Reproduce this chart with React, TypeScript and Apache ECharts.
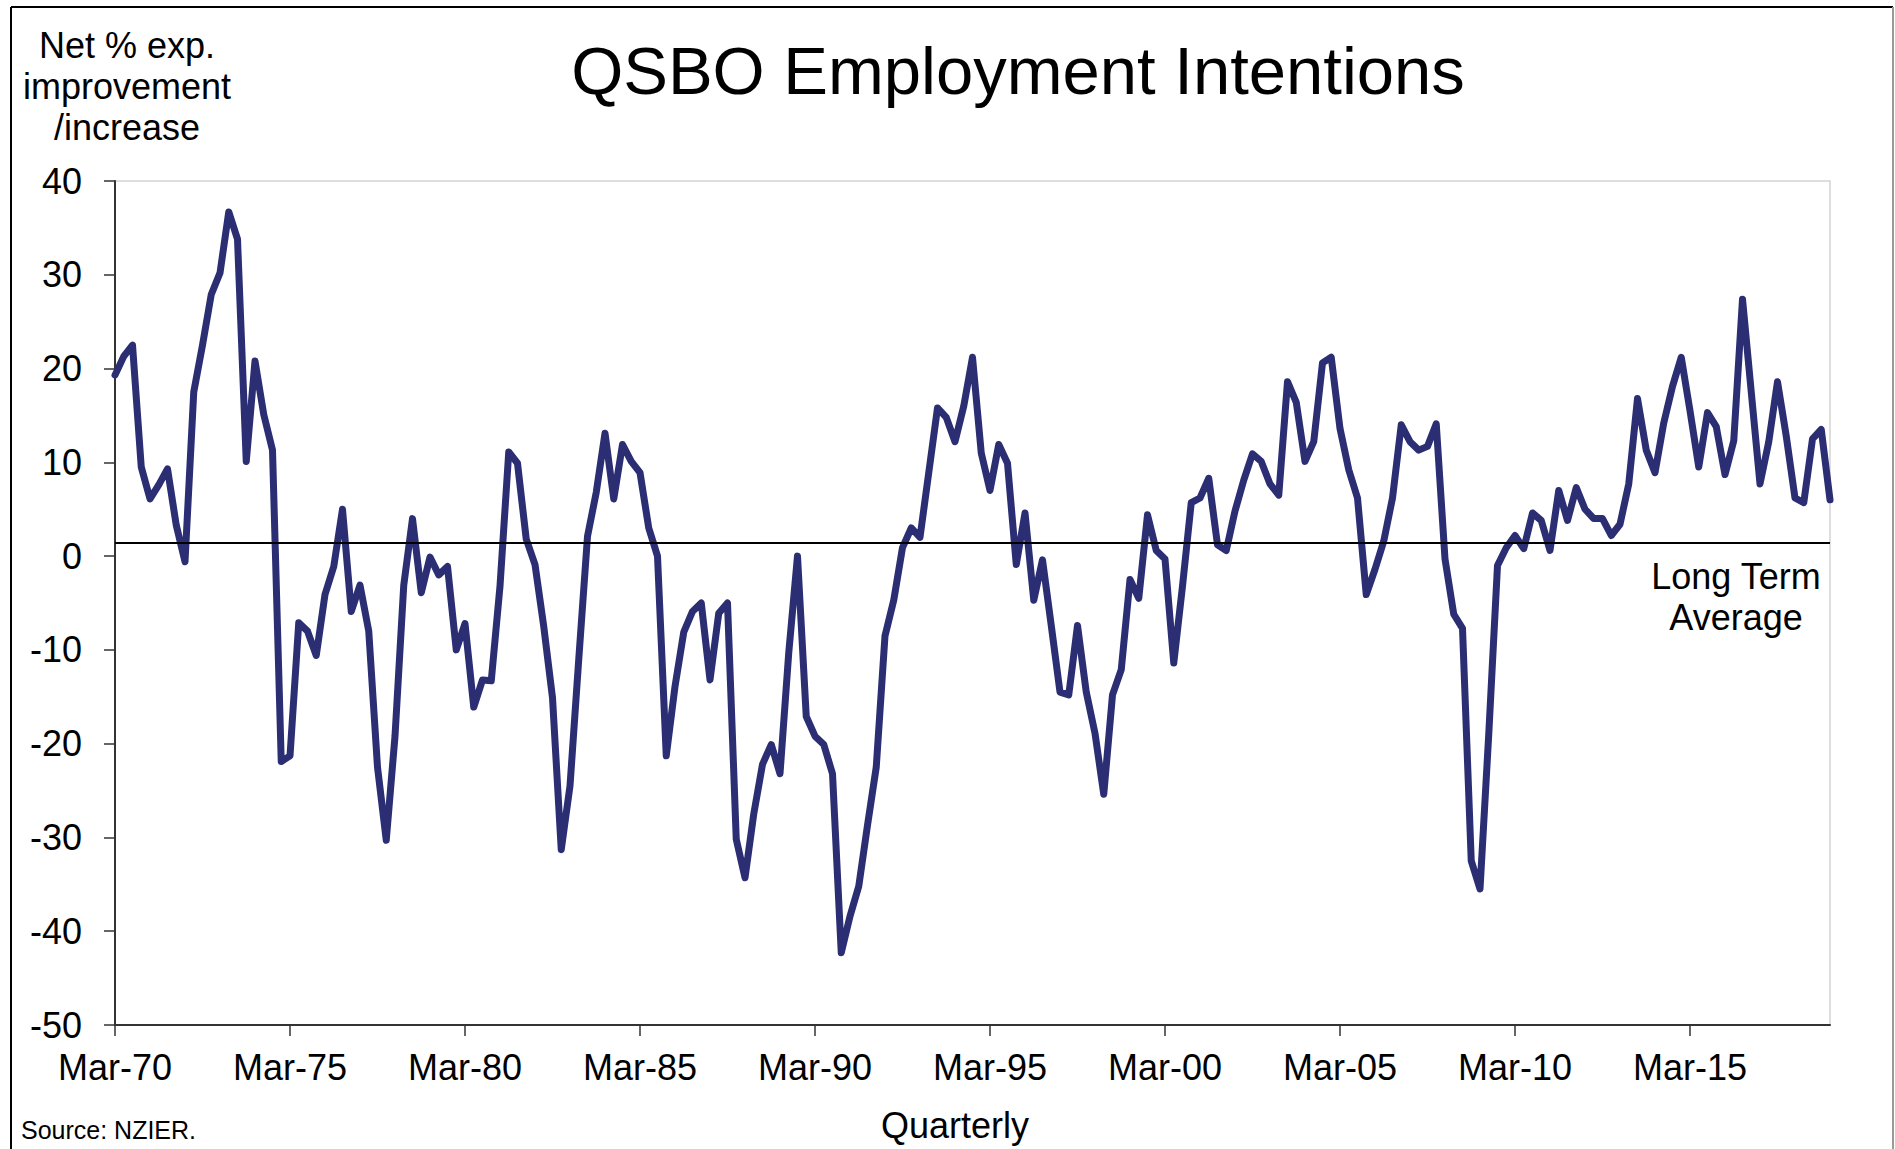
import React, { useEffect, useRef } from "react";
import * as echarts from "echarts";

// Quarterly series starts Mar-1970, ends Mar-2019
const startYear = 1970;
const quarterMonths = ["Mar", "Jun", "Sep", "Dec"];

const values1970s = [
  19.3, 21.3, 22.5, 9.5, 6.1, 7.6, 9.3, 3.3, -0.6, 17.5,
  22.5, 27.9, 30.2, 36.7, 33.8, 10.1, 20.8, 15.1, 11.3, -21.9,
  -21.3, -7.1, -8.0, -10.6, -4.1, -1.1, 5.0, -5.9, -3.1, -8.0,
  -22.5, -30.3, -19.2, -3.1, 4.0, -3.9, -0.1, -2.0, -1.1, -10.0,
];
const values1980s = [
  -7.2, -16.1, -13.2, -13.3, -3.2, 11.1, 9.9, 1.8, -0.9, -7.5,
  -15.1, -31.3, -24.5, -11.0, 2.1, 6.8, 13.1, 6.1, 11.9, 10.1,
  8.9, 3.0, 0.0, -21.3, -13.9, -8.1, -5.9, -5.0, -13.2, -6.1,
  -5.0, -30.2, -34.3, -27.5, -22.2, -20.1, -23.2, -10.3, 0.0, -17.1,
];
const values1990s = [
  -19.2, -20.1, -23.2, -42.3, -38.4, -35.2, -28.7, -22.5, -8.5, -4.7,
  0.9, 3.0, 2.0, 8.9, 15.8, 14.8, 12.2, 16.0, 21.2, 11.0,
  7.0, 11.9, 9.9, -0.9, 4.6, -4.7, -0.4, -7.4, -14.5, -14.8,
  -7.4, -14.5, -18.9, -25.4, -14.8, -12.1, -2.5, -4.5, 4.4, 0.6,
];
const values2000s = [
  -0.3, -11.4, -3.2, 5.7, 6.2, 8.3, 1.2, 0.6, 4.8, 8.1,
  10.9, 10.1, 7.7, 6.5, 18.6, 16.4, 10.1, 12.2, 20.6, 21.2,
  13.6, 9.2, 6.2, -4.1, -1.4, 1.6, 6.2, 14.0, 12.2, 11.3,
  11.7, 14.1, -0.3, -6.2, -7.7, -32.5, -35.5, -19.0, -1.0, 0.9,
];
const values2010s = [
  2.2, 0.8, 4.6, 3.8, 0.6, 7.0, 3.8, 7.3, 5.0, 4.0,
  4.0, 2.2, 3.4, 7.7, 16.8, 11.3, 8.9, 14.2, 18.1, 21.2,
  15.5, 9.5, 15.3, 13.8, 8.7, 12.3, 27.4, 17.5, 7.7, 12.2,
  18.6, 12.8, 6.2, 5.7, 12.5, 13.5, 6.0,
];

const longTermAverage = 1.4;
const yTicks = { min: -50, max: 40, interval: 10 };
const labelEvery = 20; // every 5 years

const title = "QSBO Employment Intentions";
const yAxisTitle = "Net % exp.\nimprovement\n/increase";
const xAxisTitle = "Quarterly";
const sourceText = "Source: NZIER.";
const ltaText = "Long Term\nAverage";

const FONT = "'Liberation Sans', Arial, Helvetica, sans-serif";

export default function App() {
  const ref = useRef<HTMLDivElement>(null);

  useEffect(() => {
    if (!ref.current) return;
    const chart = echarts.init(ref.current, null, { renderer: "svg" });

    const values = [
      ...values1970s,
      ...values1980s,
      ...values1990s,
      ...values2000s,
      ...values2010s,
    ];
    const categories: string[] = [];
    for (let i = 0; i < values.length; i++) {
      const yr = (startYear + Math.floor(i / 4)) % 100;
      categories.push(
        quarterMonths[i % 4] + "-" + (yr < 10 ? "0" + yr : String(yr))
      );
    }

    const option: any = {
      animation: false,
      backgroundColor: "#ffffff",
      textStyle: { fontFamily: FONT },
      grid: {
        left: 115,
        right: 65,
        top: 181,
        bottom: 124,
        show: true,
        borderColor: "#d4d4d4",
        borderWidth: 1.5,
        containLabel: false,
      },
      xAxis: {
        type: "category",
        data: categories,
        boundaryGap: false,
        axisLine: {
          show: true,
          onZero: false,
          lineStyle: { color: "#333333", width: 2 },
        },
        axisTick: {
          show: true,
          length: 11,
          interval: (i: number) => i % labelEvery === 0,
          lineStyle: { color: "#333333", width: 1.5 },
        },
        axisLabel: {
          interval: (i: number) => i % labelEvery === 0,
          color: "#000000",
          fontSize: 36,
          fontFamily: FONT,
          margin: 24,
        },
        splitLine: { show: false },
      },
      yAxis: {
        type: "value",
        min: yTicks.min,
        max: yTicks.max,
        interval: yTicks.interval,
        axisLine: { show: true, lineStyle: { color: "#333333", width: 2 } },
        axisTick: {
          show: true,
          length: 11,
          lineStyle: { color: "#333333", width: 1.5 },
        },
        axisLabel: {
          color: "#000000",
          fontSize: 36,
          fontFamily: FONT,
          margin: 33,
        },
        splitLine: { show: false },
      },
      series: [
        {
          type: "line",
          data: values,
          symbol: "none",
          lineStyle: {
            color: "#2B2E73",
            width: 7,
            join: "round",
            cap: "round",
          },
          markLine: {
            silent: true,
            symbol: "none",
            label: { show: false },
            lineStyle: { color: "#000000", width: 2, type: "solid" },
            data: [{ yAxis: longTermAverage }],
            z: 10,
          },
          z: 3,
        },
      ],
      graphic: [
        {
          type: "line",
          shape: { x1: 11, y1: 7, x2: 11, y2: 1160 },
          style: { stroke: "#000000", lineWidth: 2 },
        },
        {
          type: "line",
          shape: { x1: 11, y1: 7, x2: 1893, y2: 7 },
          style: { stroke: "#000000", lineWidth: 2 },
        },
        {
          type: "line",
          shape: { x1: 1893, y1: 7, x2: 1893, y2: 1160 },
          style: { stroke: "#9a9a9a", lineWidth: 2 },
        },
        {
          type: "text",
          x: 1018,
          y: 70,
          style: {
            text: title,
            fontSize: 67,
            fontFamily: FONT,
            fill: "#000000",
            textAlign: "center",
            textVerticalAlign: "middle",
          },
        },
        {
          type: "text",
          x: 127,
          y: 25,
          style: {
            text: yAxisTitle,
            fontSize: 36,
            lineHeight: 41,
            fontFamily: FONT,
            fill: "#000000",
            textAlign: "center",
            textVerticalAlign: "top",
          },
        },
        {
          type: "text",
          x: 1736,
          y: 556,
          style: {
            text: ltaText,
            fontSize: 36,
            lineHeight: 41,
            fontFamily: FONT,
            fill: "#000000",
            textAlign: "center",
            textVerticalAlign: "top",
          },
        },
        {
          type: "text",
          x: 955,
          y: 1125,
          style: {
            text: xAxisTitle,
            fontSize: 36,
            fontFamily: FONT,
            fill: "#000000",
            textAlign: "center",
            textVerticalAlign: "middle",
          },
        },
        {
          type: "text",
          x: 21,
          y: 1130,
          style: {
            text: sourceText,
            fontSize: 25,
            fontFamily: FONT,
            fill: "#000000",
            textAlign: "left",
            textVerticalAlign: "middle",
          },
        },
      ],
    };

    chart.setOption(option);
    return () => chart.dispose();
  }, []);

  return (
    <div
      ref={ref}
      style={{
        position: "absolute",
        left: 0,
        top: 0,
        width: 1895,
        height: 1149,
        background: "#ffffff",
      }}
    />
  );
}
